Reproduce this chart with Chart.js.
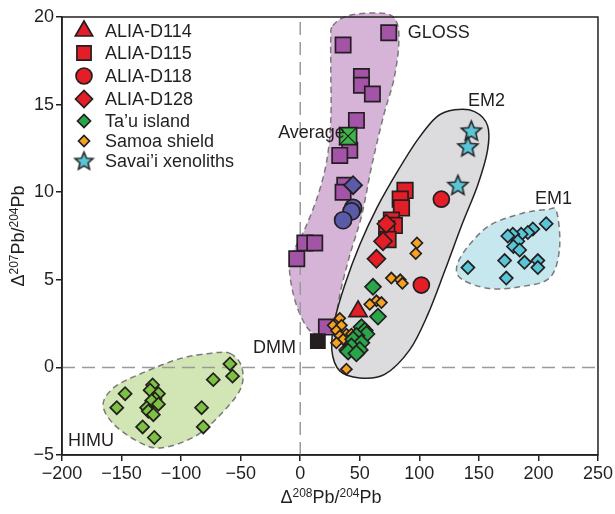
<!DOCTYPE html>
<html>
<head>
<meta charset="utf-8">
<script src="https://cdn.jsdelivr.net/npm/chart.js@4/dist/chart.umd.min.js"></script>
<style>
  html, body { margin: 0; padding: 0; background: #fff; }
  #wrap { width: 615px; height: 514px; }
</style>
</head>
<body>
<div id="wrap"><canvas id="chart" width="615" height="514"></canvas></div>
<script>
// ---- data (Δ208Pb/204Pb, Δ207Pb/204Pb) ----
const xTicks = [-200, -150, -100, -50, 0, 50, 100, 150, 200, 250];
const yTicks = [-5, 0, 5, 10, 15, 20];

const alia114 = [[48.6, 3.2]];
const alia115 = [[88, 10.1], [84, 9.6], [85, 9.1], [76.6, 8.4], [79, 8.1], [72.6, 7.9], [73.7, 7.3]];
const alia118 = [[118.5, 9.6], [101.7, 4.7]];
const alia128 = [[72.3, 8.2], [69.5, 7.2], [64, 6.2]];
const tauIsland = [[61.1, 4.6], [65.3, 2.9], [51.4, 2.3], [54.2, 2.1], [55.6, 1.9], [47.2, 1.8],
  [44.4, 1.6], [51.4, 1.4], [43, 1.2], [50, 1.0], [40.2, 0.9], [47.2, 0.8]];
const samoaShield = [[98, 7.1], [97, 6.5], [76.5, 5.1], [84, 5.0], [85.8, 4.8], [64, 3.8], [68.2, 3.7],
  [58.4, 3.6], [33.2, 2.8], [27.6, 2.4], [34.6, 2.4], [30.4, 2.1], [38.8, 1.9], [43, 1.9], [33.2, 1.8],
  [36, 1.6], [30.4, 1.4], [37.4, 1.0], [38.8, -0.1]];
const savaiiXeno = [[143.6, 13.5], [140.8, 12.6], [132.4, 10.4]];

const glossPts = [[74.3, 19.1], [36, 18.4], [51.4, 16.6], [51.4, 16.1], [60.6, 15.6], [47.2, 14.1],
  [41.6, 12.4], [33.2, 12.1], [37.4, 10.4], [36, 10.0], [3.9, 7.1], [12.2, 7.1], [-2.9, 6.2], [22, 2.3]];
const blueCircles = [[44.4, 9.1], [43, 8.9], [36, 8.4]];
const blueDiamond = [[44.4, 10.4]];
const em1Pts = [[206.5, 8.2], [195.3, 7.9], [191.1, 7.7], [185.5, 7.6], [178.5, 7.6], [174.3, 7.5],
  [182.7, 7.2], [179, 6.9], [184.2, 6.7], [171.6, 6.1], [188.3, 6.0], [199.5, 6.1], [199.5, 5.7],
  [140.8, 5.7], [173, 5.1]];
const himuPts = [[-59, 0.2], [-56.8, -0.5], [-73, -0.7], [-147, -1.5], [-154, -2.3], [-123.9, -1.0],
  [-126, -1.3], [-119, -1.5], [-121.9, -1.8], [-124.7, -1.9], [-119, -2.1], [-128.9, -2.3],
  [-127.5, -2.5], [-123.3, -2.7], [-82.8, -2.3], [-132.3, -3.4], [-122.5, -4.0], [-81.4, -3.4]];
const dmmPt = [[14.8, 1.5]];
const averagePt = [[40.2, 13.2]];

// field outlines
const glossField = [[27.3, 19.5], [41.6, 20.1], [70.9, 20.2], [81, 19.7], [82.7, 18.4], [78.5, 16.4],
  [70.1, 14.4], [60, 11.5], [51.7, 8.7], [41.6, 6.4], [34, 4.4], [29, 2.7], [20.6, 1.9], [8, 2.1],
  [-2.9, 3.5], [-8.7, 5.3], [-7, 6.4], [3.9, 7.9], [14.8, 9.8], [22.3, 11.8], [25.7, 14.1],
  [25.7, 17.0], [25.7, 18.7]];
const em2Field = [[129.6, 14.7], [146.4, 14.6], [157.3, 13.8], [157.3, 12.4], [149, 10.4], [135.5, 8.1],
  [121.3, 5.5], [107, 3.0], [91.9, 1.0], [70.9, -0.4], [50, -0.6], [33.2, -0.2], [26.5, 1.0],
  [29, 2.7], [37.4, 4.7], [50, 7.0], [65.1, 9.2], [81.8, 11.2], [98.6, 13.0], [114.6, 14.3]];
const em1Field = [[215.2, 8.9], [217.7, 6.8], [209.3, 5.1], [184.2, 4.6], [159, 4.5], [136.4, 5.0],
  [131.3, 5.7], [139.7, 6.8], [159, 8.1], [186.7, 8.8], [206.8, 9.0]];
const himuField = [[-59, 0.8], [-49, 0.0], [-50.6, -1.3], [-69.9, -2.9], [-90, -4.0], [-117.7, -4.6],
  [-137, -4.2], [-157.1, -3.2], [-165.5, -2.1], [-155.4, -1.1], [-131.9, -0.3], [-100.9, 0.5],
  [-75.8, 0.8]];

// ---- styling ----
const INK = '#231f20';
const FONT = '"Liberation Sans", Arial, Helvetica, sans-serif';
const BW = 1.7;

const toXY = arr => arr.map(p => ({ x: p[0], y: p[1] }));

function starCanvas(fill, outer) {
  const size = Math.ceil(outer * 2 + 4);
  const c = document.createElement('canvas');
  c.width = size; c.height = size;
  const g = c.getContext('2d');
  g.beginPath();
  for (let i = 0; i < 10; i++) {
    const r = i % 2 === 0 ? outer : outer * 0.45;
    const a = -Math.PI / 2 + i * Math.PI / 5;
    const px = size / 2 + r * Math.cos(a), py = size / 2 + 0.6 + r * Math.sin(a);
    if (i === 0) g.moveTo(px, py); else g.lineTo(px, py);
  }
  g.closePath();
  g.fillStyle = fill;
  g.fill();
  g.lineWidth = 1.5;
  g.strokeStyle = INK;
  g.stroke();
  return c;
}
const starImg = starCanvas('#5bc5d8', 10.5);
const starLegend = starCanvas('#5bc5d8', 9.5);

function pts(label, data, style, radius, fill, order) {
  return {
    label: label,
    data: toXY(data),
    pointStyle: style,
    pointRadius: radius,
    pointHoverRadius: radius,
    pointBackgroundColor: fill,
    pointBorderColor: INK,
    pointBorderWidth: BW,
    showLine: false,
    order: order
  };
}

const datasets = [
  { id: 'zeroX', data: [{ x: 0, y: -5 }, { x: 0, y: 20 }], showLine: true, pointRadius: 0,
    borderColor: '#9a9a9a', borderWidth: 1.5, borderDash: [13, 7], order: 101 },
  { id: 'zeroY', data: [{ x: -200, y: 0 }, { x: 250, y: 0 }], showLine: true, pointRadius: 0,
    borderColor: '#9a9a9a', borderWidth: 1.5, borderDash: [13, 7], order: 100 },
  pts('GLOSS', glossPts, 'rect', 10.8, '#a454a6', 30),
  pts('blue circles', blueCircles, 'circle', 8.5, '#5a5aa8', 29),
  pts('blue diamond', blueDiamond, 'rectRot', 9, '#5a5aa8', 28),
  pts('Average', averagePt, 'rect', 12, '#3cb54a', 12),
  { label: 'Average x', data: toXY(averagePt), pointStyle: 'crossRot', pointRadius: 13,
    pointBorderColor: INK, pointBorderWidth: 1.2, showLine: false, order: 11 },
  pts('DMM', dmmPt, 'rect', 10, INK, 27),
  pts('EM1', em1Pts, 'rectRot', 6.5, '#5bc5d8', 26),
  pts('HIMU', himuPts, 'rectRot', 6.5, '#7dc142', 25),
  pts('ALIA-D115', alia115, 'rect', 11, '#e31e26', 22),
  pts('ALIA-D128', alia128, 'rectRot', 9, '#e31e26', 21),
  pts('ALIA-D118', alia118, 'circle', 8, '#e31e26', 20),
  pts('Samoa shield', samoaShield, 'rectRot', 5.5, '#f6a21f', 19),
  pts("Ta\u2019u island", tauIsland, 'rectRot', 8, '#2aa64a', 18),
  pts('ALIA-D114', alia114, 'triangle', 10.5, '#e31e26', 15),
  pts("Savai\u2019i xenoliths", savaiiXeno, starImg, 11, '#5bc5d8', 14)
];

const legendItems = [
  { text: 'ALIA-D114', style: 'triangle', r: 10, fill: '#e31e26' },
  { text: 'ALIA-D115', style: 'rect', r: 10, fill: '#e31e26' },
  { text: 'ALIA-D118', style: 'circle', r: 8, fill: '#e31e26' },
  { text: 'ALIA-D128', style: 'rectRot', r: 8.5, fill: '#e31e26' },
  { text: "Ta\u2019u island", style: 'rectRot', r: 6.5, fill: '#2aa64a' },
  { text: 'Samoa shield', style: 'rectRot', r: 5.5, fill: '#f6a21f' },
  { text: "Savai\u2019i xenoliths", style: starLegend, r: 10, fill: '#5bc5d8' }
];

const fieldLabels = [
  { text: 'GLOSS', x: 90.2, y: 19.1, align: 'left' },
  { text: 'EM2', x: 156.5, y: 15.2, align: 'center' },
  { text: 'EM1', x: 212.7, y: 9.6, align: 'center' },
  { text: 'HIMU', x: -194.9, y: -4.2, align: 'left' },
  { text: 'DMM', x: -3.5, y: 1.1, align: 'right' },
  { text: 'Average', x: 37.5, y: 13.4, align: 'right' }
];

function closedCurve(ctx, p) {
  const n = p.length;
  ctx.beginPath();
  ctx.moveTo(p[0][0], p[0][1]);
  for (let i = 0; i < n; i++) {
    const p0 = p[(i - 1 + n) % n], p1 = p[i], p2 = p[(i + 1) % n], p3 = p[(i + 2) % n];
    ctx.bezierCurveTo(
      p1[0] + (p2[0] - p0[0]) / 6, p1[1] + (p2[1] - p0[1]) / 6,
      p2[0] - (p3[0] - p1[0]) / 6, p2[1] - (p3[1] - p1[1]) / 6,
      p2[0], p2[1]);
  }
  ctx.closePath();
}

function drawField(chart, outline, fill, stroke, dash) {
  const ctx = chart.ctx, xs = chart.scales.x, ys = chart.scales.y;
  const p = outline.map(q => [xs.getPixelForValue(q[0]), ys.getPixelForValue(q[1])]);
  ctx.save();
  closedCurve(ctx, p);
  ctx.fillStyle = fill;
  ctx.fill();
  ctx.setLineDash(dash);
  ctx.lineWidth = 1.5;
  ctx.strokeStyle = stroke;
  ctx.stroke();
  ctx.restore();
}

function drawRich(ctx, parts, x, y) {
  // parts: [text, isSup]; centred on x, baseline at y
  let w = 0;
  parts.forEach(pt => { ctx.font = (pt[1] ? 12 : 18) + 'px ' + FONT; w += ctx.measureText(pt[0]).width; });
  let cx = x - w / 2;
  parts.forEach(pt => {
    ctx.font = (pt[1] ? 12 : 18) + 'px ' + FONT;
    ctx.fillText(pt[0], cx, pt[1] ? y - 6 : y);
    cx += ctx.measureText(pt[0]).width;
  });
}

const decor = {
  id: 'decor',
  beforeDatasetsDraw(chart) {
    drawField(chart, glossField, '#d6b4d8', '#7a7a7a', [6, 4]);
    drawField(chart, em1Field, '#c6e7ee', '#7a7a7a', [6, 4]);
    drawField(chart, himuField, '#d1e6b4', '#7a7a7a', [6, 4]);
  },
  afterDatasetDraw(chart, args) {
    if (chart.data.datasets[args.index].id === 'zeroY') {
      drawField(chart, em2Field, '#dcdcde', INK, []);
    }
  },
  afterDatasetsDraw(chart) {
    const ctx = chart.ctx, a = chart.chartArea, xs = chart.scales.x, ys = chart.scales.y;
    ctx.save();
    // frame
    ctx.strokeStyle = INK;
    ctx.lineWidth = 1.5;
    ctx.strokeRect(a.left, a.top, a.right - a.left, a.bottom - a.top);
    // field labels
    ctx.fillStyle = INK;
    ctx.textBaseline = 'middle';
    ctx.font = '18px ' + FONT;
    fieldLabels.forEach(l => {
      ctx.textAlign = l.align;
      ctx.fillText(l.text, xs.getPixelForValue(l.x), ys.getPixelForValue(l.y));
    });
    // legend
    const rows = [31, 53, 76, 99, 121, 141, 161];
    legendItems.forEach((it, i) => {
      ctx.fillStyle = it.fill;
      ctx.strokeStyle = INK;
      ctx.lineWidth = BW;
      Chart.helpers.drawPoint(ctx, { pointStyle: it.style, radius: it.r, rotation: 0, borderWidth: BW }, 84, rows[i]);
      ctx.fillStyle = INK;
      ctx.textAlign = 'left';
      ctx.textBaseline = 'middle';
      ctx.font = '18px ' + FONT;
      ctx.fillText(it.text, 105, rows[i] + 1);
    });
    // axis titles
    ctx.textAlign = 'left';
    ctx.textBaseline = 'alphabetic';
    drawRich(ctx, [['\u0394', 0], ['208', 1], ['Pb/', 0], ['204', 1], ['Pb', 0]], 331, 503);
    ctx.translate(24, 236);
    ctx.rotate(-Math.PI / 2);
    drawRich(ctx, [['\u0394', 0], ['207', 1], ['Pb/', 0], ['204', 1], ['Pb', 0]], 0, 0);
    ctx.restore();
  }
};

const tickFmt = v => String(v).replace('-', '\u2212');

new Chart(document.getElementById('chart').getContext('2d'), {
  type: 'scatter',
  data: { datasets: datasets },
  options: {
    responsive: false,
    animation: false,
    devicePixelRatio: 1,
    layout: { padding: { top: 17, right: 16, left: 0, bottom: 0 } },
    plugins: { legend: { display: false }, tooltip: { enabled: false } },
    scales: {
      x: {
        type: 'linear', min: xTicks[0], max: xTicks[xTicks.length - 1],
        afterBuildTicks: s => { s.ticks = xTicks.map(v => ({ value: v })); },
        afterFit: s => { s.height = 59; },
        ticks: { color: INK, font: { size: 18, family: FONT }, padding: 2, maxRotation: 0, callback: tickFmt },
        grid: { drawOnChartArea: false, drawTicks: true, tickLength: 6, color: INK, lineWidth: 1.5 },
        border: { display: true, color: INK, width: 1.5 }
      },
      y: {
        type: 'linear', min: yTicks[0], max: yTicks[yTicks.length - 1],
        afterBuildTicks: s => { s.ticks = yTicks.map(v => ({ value: v })); },
        afterFit: s => { s.width = 62; },
        ticks: { color: INK, font: { size: 18, family: FONT }, padding: 2, callback: tickFmt },
        grid: { drawOnChartArea: false, drawTicks: true, tickLength: 6, color: INK, lineWidth: 1.5 },
        border: { display: true, color: INK, width: 1.5 }
      }
    }
  },
  plugins: [decor]
});
</script>
</body>
</html>
